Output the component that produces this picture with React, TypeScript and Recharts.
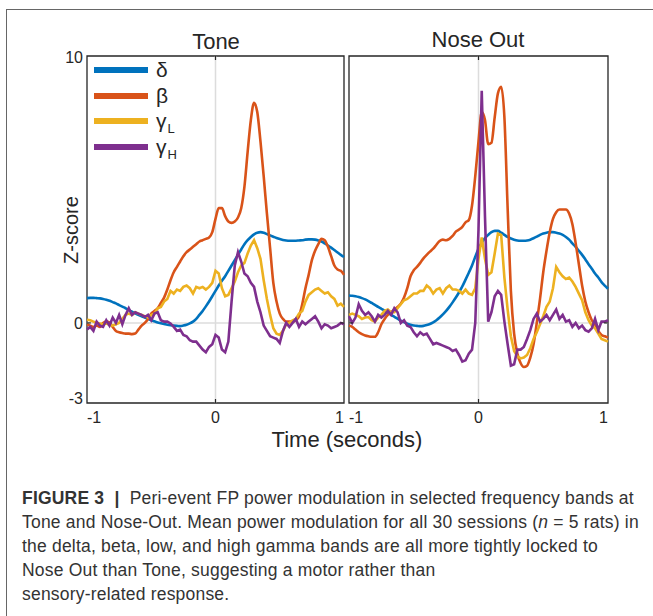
import { LineChart, Line, XAxis, YAxis, ReferenceLine, ReferenceArea } from 'recharts'

// time axis: -1 .. 1 s in 25 ms steps (81 samples)
const TIME = Array.from({ length: 81 }, (_, i) => Math.round((-1 + i * 0.025) * 1000) / 1000)

const X_TICKS = [-1, 0, 1]
const Y_TICKS = [-3, 0, 10]

// Tone-aligned z-scores
const TONE_DELTA = [
    0.93, 0.94, 0.94, 0.93, 0.92, 0.9, 0.87, 0.83, 0.78, 0.73,
    0.67, 0.61, 0.55, 0.48, 0.42, 0.36, 0.3, 0.25, 0.2, 0.15,
    0.1, 0.06, 0.02, -0.01, -0.04, -0.07, -0.09, -0.1, -0.11, -0.12,
    -0.1, -0.07, -0.02, 0.05, 0.15, 0.3, 0.45, 0.62, 0.8, 1.0,
    1.2, 1.4, 1.58, 1.75, 1.95, 2.15, 2.35, 2.55, 2.75, 2.95,
    3.1, 3.22, 3.32, 3.38, 3.4, 3.38, 3.33, 3.28, 3.23, 3.18,
    3.14, 3.11, 3.09, 3.08, 3.08, 3.08, 3.09, 3.1, 3.12, 3.13,
    3.13, 3.12, 3.09, 3.05, 2.98, 2.9, 2.82, 2.73, 2.64, 2.55,
    2.47,
]
const TONE_BETA = [
    -0.05, -0.1, -0.15, -0.1, -0.15, 0.0, 0.05, 0.02, -0.15, -0.3,
    -0.35, -0.38, -0.4, -0.4, -0.42, -0.4, -0.25, -0.1, 0.0, 0.15,
    0.35, 0.45, 0.55, 0.75, 0.95, 1.25, 1.6, 1.9, 2.1, 2.3,
    2.5, 2.65, 2.75, 2.85, 2.95, 3.05, 3.1, 3.15, 3.2, 3.4,
    3.9, 4.3, 4.3, 4.0, 3.8, 3.75, 3.8, 3.95, 4.3, 5.1,
    6.4, 7.6, 8.25, 7.9, 6.8, 5.5, 4.1, 2.8, 1.5, 0.8,
    0.35, 0.15, 0.05, 0.05, 0.05, 0.1, 0.25, 0.7, 1.3, 1.8,
    2.35, 2.7, 2.95, 3.15, 3.1, 2.85, 2.5, 2.15, 2.0, 1.95,
    1.8,
]
const TONE_GAMMA_L = [
    0.12, 0.1, 0.05, 0.0, -0.02, -0.05, -0.02, -0.08, -0.1, -0.05,
    0.0, 0.15, 0.3, 0.35, 0.3, 0.4, 0.35, 0.3, 0.25, 0.2,
    0.3, 0.35, 0.55, 0.6, 0.8, 0.9, 1.2, 1.1, 1.25, 1.2,
    1.35, 1.4, 1.3, 1.1, 1.35, 1.3, 1.35, 1.25, 1.35, 1.5,
    1.95, 1.85, 1.3, 1.0, 1.05, 1.3, 1.55, 1.9, 2.15, 2.25,
    2.6, 2.9, 3.1, 2.8, 2.4, 1.6, 0.9, 0.3, -0.2, -0.4,
    -0.45, -0.3, -0.05, 0.0, 0.1, 0.15, 0.35, 0.45, 0.8, 1.05,
    1.15, 1.25, 1.3, 1.2, 1.1, 1.15, 1.0, 0.9, 0.65, 0.72,
    0.6,
]
const TONE_GAMMA_H = [
    -0.25, -0.15, -0.3, 0.05, -0.1, -0.15, 0.1, -0.1, 0.2, 0.0,
    0.3, -0.05, 0.3, 0.55, 0.3, 0.4, 0.35, 0.3, 0.22, 0.3,
    0.1, 0.35, 0.4, 0.1, 0.05, 0.05, -0.02, -0.15, -0.3, -0.25,
    -0.45, -0.5, -0.65, -0.7, -0.7, -0.85, -1.0, -1.1, -0.9, -0.8,
    -0.45, -0.55, -1.0, -1.1, -0.7, 0.8, 2.15, 2.65, 2.3, 1.85,
    1.75, 1.5, 1.35, 0.8, 0.4, -0.1, -0.3, -0.5, -0.55, -0.6,
    -0.75, -0.3, 0.0, -0.15, 0.0, 0.15, -0.15, 0.05, -0.05, 0.05,
    0.15, 0.25, 0.05, -0.2, -0.05, -0.1, -0.2, -0.15, -0.1, 0.0,
    -0.05,
]

// Nose-Out-aligned z-scores
const NOSE_DELTA = [
    1.03, 1.02, 1.0, 0.97, 0.93, 0.88, 0.82, 0.75, 0.68, 0.6,
    0.53, 0.46, 0.38, 0.3, 0.23, 0.16, 0.09, 0.03, -0.03, -0.07,
    -0.1, -0.11, -0.12, -0.11, -0.08, -0.04, 0.02, 0.1, 0.2, 0.32,
    0.45, 0.6, 0.77, 0.95, 1.15, 1.37, 1.62, 1.88, 2.15, 2.48,
    2.78, 3.0, 3.18, 3.3, 3.4, 3.45, 3.45, 3.38, 3.3, 3.22,
    3.16, 3.12, 3.09, 3.08, 3.08, 3.09, 3.12, 3.17, 3.23, 3.3,
    3.35, 3.38, 3.4, 3.4, 3.38, 3.35, 3.3, 3.22, 3.12, 2.98,
    2.85, 2.7, 2.55, 2.38, 2.2, 2.03, 1.85, 1.7, 1.53, 1.4,
    1.28,
]
const NOSE_BETA = [
    -0.1, -0.15, -0.25, -0.35, -0.42, -0.47, -0.5, -0.52, -0.52, -0.35,
    -0.05, 0.15, 0.3, 0.4, 0.5, 0.6, 0.72, 0.95, 1.3, 1.75,
    1.97, 2.1, 2.25, 2.42, 2.55, 2.67, 2.78, 2.93, 3.07, 3.12,
    3.1, 3.15, 3.26, 3.42, 3.5, 3.6, 3.77, 3.85, 4.4, 5.5,
    6.8, 7.9, 7.6, 6.7, 6.75, 7.7, 8.6, 8.85, 7.7, 4.3,
    1.2, -0.4, -1.15, -1.5, -1.65, -1.6, -1.3, -0.8, 0.0, 0.9,
    1.9, 2.7, 3.4, 3.9, 4.15, 4.25, 4.25, 4.25, 4.1, 3.7,
    3.0, 2.2, 1.4, 0.8, 0.4, 0.1, -0.05, -0.3, -0.45, -0.5,
    -0.55,
]
const NOSE_GAMMA_L = [
    0.3, 0.35, 0.3, 0.25, 0.15, 0.2, 0.22, 0.1, 0.05, 0.2,
    0.3, 0.45, 0.5, 0.4, 0.4, 0.55, 0.7, 0.85, 0.9, 1.0,
    1.1, 1.1, 1.2, 1.2, 1.4, 1.3, 1.1, 1.25, 1.3, 1.1,
    1.3, 1.4, 1.25, 1.25, 1.2, 1.1, 1.25, 1.1, 1.05, 1.3,
    2.4, 3.2, 2.4, 1.8, 1.9, 2.6, 3.35, 3.3, 1.7, 0.5,
    -0.5, -1.05, -1.25, -1.33, -1.3, -1.2, -0.95, -0.6, -0.35, -0.05,
    0.25, 0.6, 0.8, 1.3, 2.1, 1.9, 1.75, 1.65, 1.7, 1.55,
    1.35, 1.1, 0.85, 0.4, 0.1, -0.1, -0.2, -0.4, -0.6, -0.65,
    -0.7,
]
const NOSE_GAMMA_H = [
    0.25, 0.0, 0.2, 0.7, 0.45, 0.3, 0.4, 0.25, 0.05, 0.3,
    0.2, 0.3, 0.45, 0.3, 0.55, 0.4, 0.0, 0.1, -0.1, -0.15,
    -0.35, -0.5, -0.35, -0.45, -0.4, -0.6, -0.8, -0.75, -0.8, -0.85,
    -0.9, -0.95, -1.05, -1.0, -1.2, -1.45, -1.4, -1.15, -1.0, 0.0,
    3.5, 8.7, 4.0, 0.05, 0.4, 1.0, 1.2, 1.05, 0.05, -0.8,
    -1.6, -1.55, -1.0, -1.0, -0.9, -0.6, -0.27, 0.15, 0.35, 0.05,
    0.15, 0.3, 0.1, 0.3, 0.5, 0.15, 0.3, 0.05, 0.1, -0.15,
    0.0, -0.2, -0.1, -0.27, -0.33, -0.2, 0.15, -0.27, 0.05, 0.05,
    0.1,
]

const BANDS = [
    { key: 'delta', name: 'δ', sub: '', color: '#0072BD' },
    { key: 'beta', name: 'β', sub: '', color: '#D95319' },
    { key: 'gammaL', name: 'γ', sub: 'L', color: '#EDB120' },
    { key: 'gammaH', name: 'γ', sub: 'H', color: '#7E2F8E' },
]

const TONE: Record<string, number[]> = { delta: TONE_DELTA, beta: TONE_BETA, gammaL: TONE_GAMMA_L, gammaH: TONE_GAMMA_H }
const NOSE: Record<string, number[]> = { delta: NOSE_DELTA, beta: NOSE_BETA, gammaL: NOSE_GAMMA_L, gammaH: NOSE_GAMMA_H }

const toRows = (vals: number[]) => TIME.map((t, i) => ({ t, v: vals[i] }))

const AXIS = '#262626'
const FONT = '"Liberation Sans", Arial, sans-serif'

// edge labels sit inside the box, like matlab does it
const XTick = ({ x, y, payload }: any) => {
    const v = payload.value
    const anchor = v < 0 ? 'start' : v > 0 ? 'end' : 'middle'
    return <text x={x} y={y} dy={20} textAnchor={anchor} fontSize={16} fill={AXIS}>{v}</text>
}

const YTick = ({ x, y, payload }: any) => {
    const v = payload.value
    const dy = v === -3 ? 1 : v === 10 ? 7 : 6
    return <text x={x - 4} y={y} dy={dy} textAnchor="end" fontSize={16} fill={AXIS}>{v}</text>
}

const Panel = ({ series, width, margin, showY }: any) => (
    <LineChart width={width} height={440} margin={margin}>
        <ReferenceLine x={0} stroke="#dcdcdc" strokeWidth={1.5} />
        <ReferenceLine y={0} stroke="#dcdcdc" strokeWidth={1.5} />
        <XAxis type="number" dataKey="t" domain={[-1, 1]} ticks={X_TICKS} height={30}
            axisLine={false} tickLine={false} tickSize={0} tickMargin={0} tick={<XTick />} interval={0} />
        <YAxis type="number" domain={[-3, 10]} ticks={Y_TICKS} width={showY ? 40 : 0}
            axisLine={false} tickLine={false} tickSize={0} tickMargin={0}
            tick={showY ? <YTick /> : false} interval={0} />
        {BANDS.map(b => (
            <Line key={b.key} data={toRows(series[b.key])} dataKey="v" name={b.key}
                type={b.key === 'delta' || b.key === 'beta' ? 'monotone' : 'linear'}
                stroke={b.color} strokeWidth={2.6} dot={false} isAnimationActive={false} />
        ))}
        {/* axes box with small inward ticks */}
        <ReferenceArea x1={-1} x2={1} y1={-3} y2={10} fill="none" stroke={AXIS} strokeWidth={1.3} />
        <ReferenceLine segment={[{ x: 0, y: -3 }, { x: 0, y: -2.85 }]} stroke={AXIS} strokeWidth={1.2} />
        <ReferenceLine segment={[{ x: 0, y: 10 }, { x: 0, y: 9.85 }]} stroke={AXIS} strokeWidth={1.2} />
        <ReferenceLine segment={[{ x: -1, y: 0 }, { x: -0.97, y: 0 }]} stroke={AXIS} strokeWidth={1.2} />
        <ReferenceLine segment={[{ x: 1, y: 0 }, { x: 0.97, y: 0 }]} stroke={AXIS} strokeWidth={1.2} />
    </LineChart>
)

const CAPTION = [
    'Peri-event FP power modulation in selected frequency bands at',
    'Tone and Nose-Out. Mean power modulation for all 30 sessions (',
    'the delta, beta, low, and high gamma bands are all more tightly locked to',
    'Nose Out than Tone, suggesting a motor rather than',
    'sensory-related response.',
]

export default function App() {
    return (
        <div style={{ position: 'absolute', left: 0, top: 0, width: 653, height: 616, overflow: 'hidden', background: '#fff', fontFamily: FONT, color: AXIS }}>
            {/* frame around figure */}
            <div style={{ position: 'absolute', left: 6, top: 9, width: 700, height: 700, border: '1.5px solid #666' }} />

            <div style={{ position: 'absolute', left: 0, top: 0 }}>
                <Panel series={TONE} width={350} showY margin={{ top: 56, right: 6, bottom: 7, left: 47 }} />
            </div>
            <div style={{ position: 'absolute', left: 300, top: 0 }}>
                <Panel series={NOSE} width={320} showY={false} margin={{ top: 56, right: 12, bottom: 7, left: 49 }} />
            </div>

            {/* titles */}
            <div style={{ position: 'absolute', left: 116, width: 200, top: 30, textAlign: 'center', fontSize: 22, lineHeight: '24px' }}>Tone</div>
            <div style={{ position: 'absolute', left: 378, width: 200, top: 28, textAlign: 'center', fontSize: 22, lineHeight: '24px' }}>Nose Out</div>

            {/* axis labels */}
            <div style={{ position: 'absolute', left: 21, top: 218, width: 100, textAlign: 'center', fontSize: 20, lineHeight: '24px', transform: 'rotate(-90deg)' }}>Z-score</div>
            <div style={{ position: 'absolute', left: 197, top: 427, width: 300, textAlign: 'center', fontSize: 22, lineHeight: '26px' }}>Time (seconds)</div>

            {/* legend */}
            {BANDS.map((b, i) => (
                <div key={b.key} style={{ position: 'absolute', left: 94, top: 59 + i * 25.5, height: 22, display: 'flex', alignItems: 'center' }}>
                    <span style={{ width: 54, height: 6, background: b.color, display: 'inline-block' }} />
                    <span style={{ marginLeft: 8, fontSize: 21, lineHeight: '22px', height: 22 }}>
                        {b.name}
                        {b.sub && <span style={{ fontSize: 13, position: 'relative', top: 5, marginLeft: 1 }}>{b.sub}</span>}
                    </span>
                </div>
            ))}

            {/* caption */}
            <div style={{ position: 'absolute', left: 22, top: 486, fontSize: 17.5, letterSpacing: 0.2, lineHeight: '24px', color: '#333', whiteSpace: 'nowrap' }}>
                <div><b>FIGURE 3</b>&nbsp; <b>|</b>&nbsp; {CAPTION[0]}</div>
                <div>{CAPTION[1]}<i>n</i> = 5 rats) in</div>
                <div>{CAPTION[2]}</div>
                <div>{CAPTION[3]}</div>
                <div>{CAPTION[4]}</div>
            </div>
        </div>
    )
}
